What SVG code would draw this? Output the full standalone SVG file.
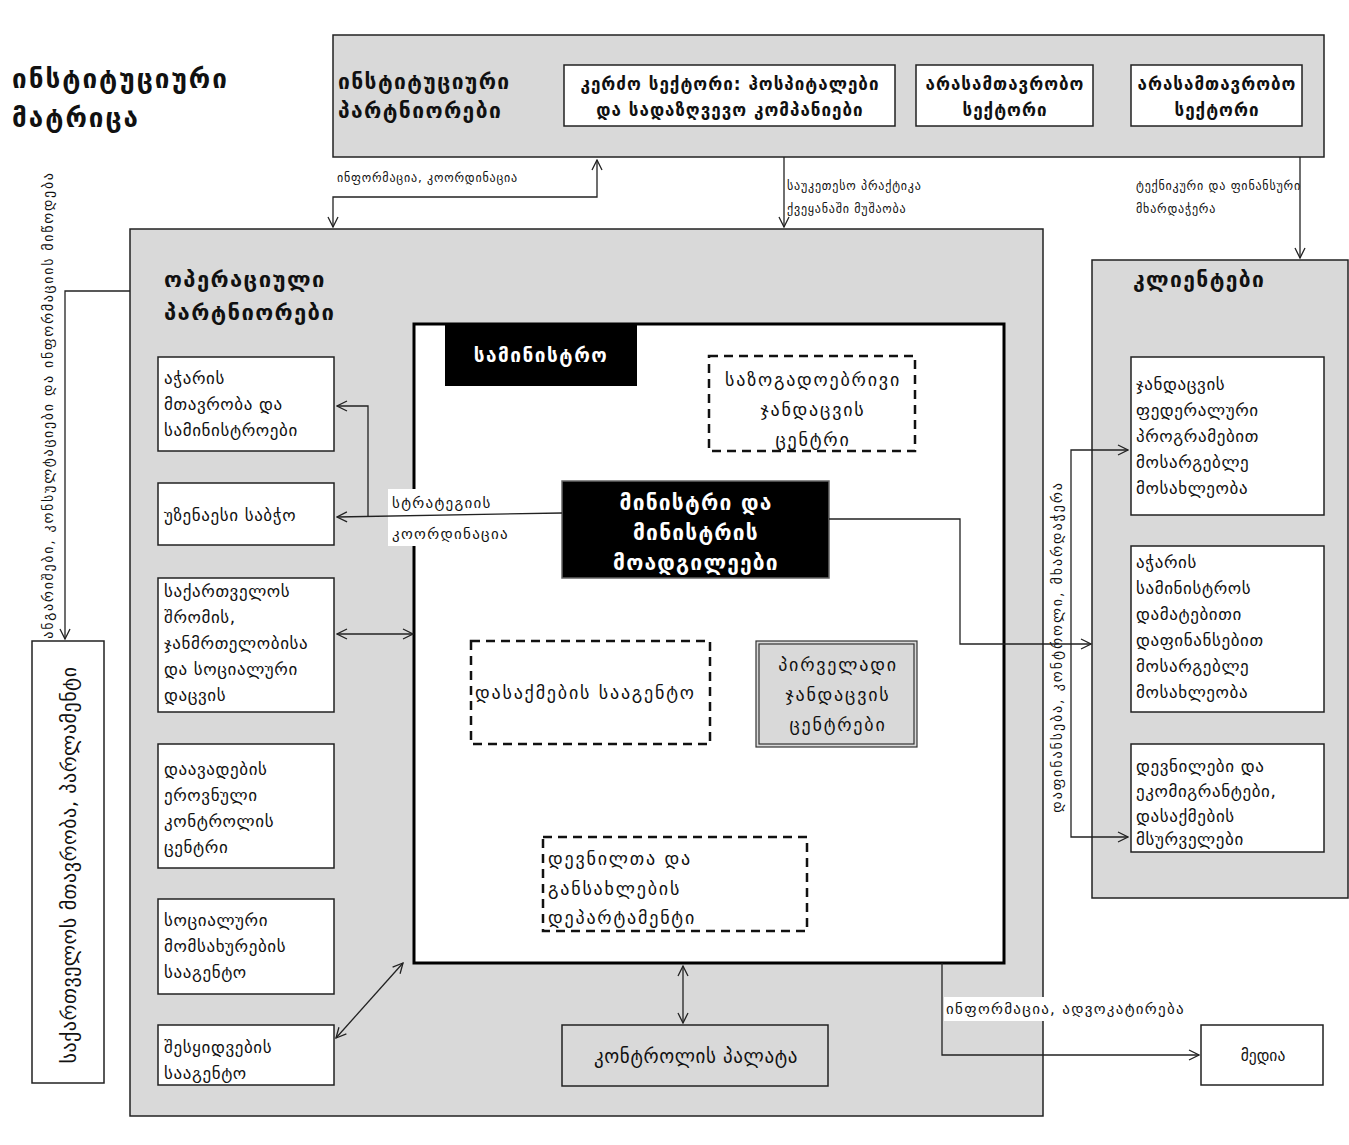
<svg xmlns="http://www.w3.org/2000/svg" width="1349" height="1145" viewBox="0 0 1349 1145">
<style>
text{font-family:"DejaVu Sans","Noto Sans",sans-serif;fill:#111}
.ttl{font-size:26px;font-weight:bold;letter-spacing:2px}
.h{font-size:21px;font-weight:bold;letter-spacing:1.4px}
.tb{font-size:17px;font-weight:bold;letter-spacing:1px}
.t{font-size:17px;letter-spacing:0.6px}
.ti{font-size:18px;letter-spacing:1.8px}
.w{fill:#fff;font-weight:bold}
.s{font-size:12px;letter-spacing:0.8px}
.m{font-size:15px;letter-spacing:1.3px}
.gray{fill:#d9d9d9;stroke:#222;stroke-width:1.5}
.box{fill:#fff;stroke:#222;stroke-width:1.5}
.dash{fill:#fff;stroke:#111;stroke-width:2.5;stroke-dasharray:9 6}
.ln{fill:none;stroke:#222;stroke-width:1.3}
.c{text-anchor:middle}
</style>
<defs>
<marker id="a" viewBox="0 0 12 12" refX="11" refY="6" markerWidth="12" markerHeight="12" markerUnits="userSpaceOnUse" orient="auto-start-reverse">
<path d="M1,1 L11,6 L1,11" fill="none" stroke="#222" stroke-width="1.3"/>
</marker>
</defs>
<rect width="1349" height="1145" fill="#fff"/>

<g id="title">
<text class="ttl" x="12" y="88">ინსტიტუციური</text>
<text class="ttl" x="12" y="127">მატრიცა</text>
</g>

<g id="institutional">
<rect class="gray" x="333" y="35" width="991" height="122"/>
<text class="h" x="338" y="89">ინსტიტუციური</text>
<text class="h" x="338" y="118">პარტნიორები</text>
</g>
<g id="private">
<rect class="box" x="564" y="65" width="331" height="61"/>
<text class="tb c" x="730" y="90">კერძო სექტორი: ჰოსპიტალები</text>
<text class="tb c" x="730" y="116">და სადაზღვევო კომპანიები</text>
</g>
<g id="ngo1">
<rect class="box" x="916" y="65" width="177" height="61"/>
<text class="tb c" x="1005" y="90">არასამთავრობო</text>
<text class="tb c" x="1005" y="116">სექტორი</text>
</g>
<g id="ngo2">
<rect class="box" x="1131" y="65" width="171" height="61"/>
<text class="tb c" x="1217" y="90">არასამთავრობო</text>
<text class="tb c" x="1217" y="116">სექტორი</text>
</g>

<g id="operational">
<rect class="gray" x="130" y="229" width="913" height="887"/>
<text class="h" x="164" y="287" style="font-size:22px">ოპერაციული</text>
<text class="h" x="164" y="320" style="font-size:22px">პარტნიორები</text>
</g>

<g id="adjara-gov">
<rect class="box" x="158" y="357" width="176" height="94"/>
<text class="t" x="164" y="384">აჭარის</text>
<text class="t" x="164" y="410">მთავრობა და</text>
<text class="t" x="164" y="436">სამინისტროები</text>
</g>
<g id="supreme-council">
<rect class="box" x="158" y="483" width="176" height="62"/>
<text class="t" x="164" y="521">უზენაესი საბჭო</text>
</g>
<g id="moh">
<rect class="box" x="158" y="578" width="176" height="134"/>
<text class="t" x="164" y="597">საქართველოს</text>
<text class="t" x="164" y="623">შრომის,</text>
<text class="t" x="164" y="649">ჯანმრთელობისა</text>
<text class="t" x="164" y="675">და სოციალური</text>
<text class="t" x="164" y="701">დაცვის</text>
</g>
<g id="ncdc">
<rect class="box" x="158" y="744" width="176" height="124"/>
<text class="t" x="164" y="775">დაავადების</text>
<text class="t" x="164" y="801">ეროვნული</text>
<text class="t" x="164" y="827">კონტროლის</text>
<text class="t" x="164" y="853">ცენტრი</text>
</g>
<g id="ssa">
<rect class="box" x="158" y="899" width="176" height="95"/>
<text class="t" x="164" y="926">სოციალური</text>
<text class="t" x="164" y="952">მომსახურების</text>
<text class="t" x="164" y="978">სააგენტო</text>
</g>
<g id="procurement">
<rect class="box" x="158" y="1025" width="176" height="60"/>
<text class="t" x="164" y="1053">შესყიდვების</text>
<text class="t" x="164" y="1079">სააგენტო</text>
</g>

<g id="ministry">
<rect x="414" y="324" width="590" height="639" fill="#fff" stroke="#000" stroke-width="3"/>
<rect x="445" y="325" width="192" height="61" fill="#000"/>
<text class="w c" x="541" y="362" font-size="19" letter-spacing="1.5">სამინისტრო</text>
</g>
<g id="public-health">
<rect class="dash" x="709" y="356" width="206" height="95"/>
<text class="ti c" x="813" y="386">საზოგადოებრივი</text>
<text class="ti c" x="813" y="416">ჯანდაცვის</text>
<text class="ti c" x="813" y="446">ცენტრი</text>
</g>
<g id="minister">
<rect x="562" y="481" width="267" height="97" fill="#000" stroke="#666" stroke-width="1.5"/>
<text class="w c" x="696" y="510" font-size="21" letter-spacing="1.2">მინისტრი და</text>
<text class="w c" x="696" y="540" font-size="21" letter-spacing="1.2">მინისტრის</text>
<text class="w c" x="696" y="570" font-size="21" letter-spacing="1.2">მოადგილეები</text>
</g>
<g id="employment">
<rect class="dash" x="471" y="641" width="239" height="103"/>
<text class="ti" x="475" y="699">დასაქმების სააგენტო</text>
</g>
<g id="phc">
<rect x="756" y="641" width="161" height="106" fill="#d9d9d9" stroke="#333" stroke-width="1.2"/>
<rect x="759" y="644" width="155" height="100" fill="none" stroke="#333" stroke-width="1.2"/>
<text class="ti c" x="838" y="671">პირველადი</text>
<text class="ti c" x="838" y="701">ჯანდაცვის</text>
<text class="ti c" x="838" y="731">ცენტრები</text>
</g>
<g id="idp">
<rect class="dash" x="543" y="837" width="264" height="94"/>
<text class="ti" x="548" y="865">დევნილთა და</text>
<text class="ti" x="548" y="895">განსახლების</text>
<text class="ti" x="548" y="924">დეპარტამენტი</text>
</g>

<g id="audit">
<rect class="gray" x="562" y="1025" width="266" height="61"/>
<text class="c" x="696" y="1063" font-size="19" letter-spacing="0.6">კონტროლის პალატა</text>
</g>

<g id="clients">
<rect class="gray" x="1092" y="260" width="256" height="638"/>
<text class="h" x="1133" y="287" letter-spacing="0.5">კლიენტები</text>
</g>
<g id="client1">
<rect class="box" x="1131" y="357" width="193" height="158"/>
<text class="t" x="1136" y="390">ჯანდაცვის</text>
<text class="t" x="1136" y="416">ფედერალური</text>
<text class="t" x="1136" y="442">პროგრამებით</text>
<text class="t" x="1136" y="468">მოსარგებლე</text>
<text class="t" x="1136" y="494">მოსახლეობა</text>
</g>
<g id="client2">
<rect class="box" x="1131" y="546" width="193" height="166"/>
<text class="t" x="1136" y="568">აჭარის</text>
<text class="t" x="1136" y="594">სამინისტროს</text>
<text class="t" x="1136" y="620">დამატებითი</text>
<text class="t" x="1136" y="646">დაფინანსებით</text>
<text class="t" x="1136" y="672">მოსარგებლე</text>
<text class="t" x="1136" y="698">მოსახლეობა</text>
</g>
<g id="client3">
<rect class="box" x="1131" y="744" width="193" height="108"/>
<text class="t" x="1136" y="772">დევნილები და</text>
<text class="t" x="1136" y="797">ეკომიგრანტები,</text>
<text class="t" x="1136" y="822">დასაქმების</text>
<text class="t" x="1136" y="845">მსურველები</text>
</g>

<g id="government">
<rect class="box" x="32" y="641" width="72" height="442"/>
<text class="c" transform="translate(76,865) rotate(-90)" font-size="20" letter-spacing="0.5">საქართველოს მთავრობა, პარლამენტი</text>
</g>

<g id="media">
<rect class="box" x="1201" y="1025" width="122" height="60"/>
<text class="c" x="1263" y="1061" font-size="15.5">მედია</text>
</g>

<g id="connectors">
<polyline class="ln" points="597,160 597,197 333,197 333,227" marker-start="url(#a)" marker-end="url(#a)"/>
<text class="s" x="337" y="182">ინფორმაცია, კოორდინაცია</text>
<line class="ln" x1="784" y1="157" x2="784" y2="227" marker-end="url(#a)"/>
<text class="s" x="787" y="190">საუკეთესო პრაქტიკა</text>
<text class="s" x="787" y="213">ქვეყანაში მუშაობა</text>
<line class="ln" x1="1300" y1="157" x2="1300" y2="258" marker-end="url(#a)"/>
<text class="s" x="1136" y="190" letter-spacing="0.5">ტექნიკური და ფინანსური</text>
<text class="s" x="1136" y="213" letter-spacing="0.5">მხარდაჭერა</text>

<polyline class="ln" points="130,291 65,291 65,639" marker-end="url(#a)"/>
<text class="c" transform="translate(53,405) rotate(-90)" font-size="14" letter-spacing="1.7">ანგარიშები, კონსულტაციები და ინფორმაციის მიწოდება</text>

<rect x="388" y="489" width="122" height="57" fill="#fff"/>
<line class="ln" x1="562" y1="513" x2="337" y2="517" marker-end="url(#a)"/>
<polyline class="ln" points="368,516 368,406 337,406" marker-end="url(#a)"/>
<text class="m" x="392" y="508">სტრატეგიის</text>
<text class="m" x="392" y="539">კოორდინაცია</text>
<line class="ln" x1="337" y1="634" x2="413" y2="634" marker-start="url(#a)" marker-end="url(#a)"/>
<line class="ln" x1="336" y1="1038" x2="403" y2="963" marker-start="url(#a)" marker-end="url(#a)"/>
<line class="ln" x1="683" y1="966" x2="683" y2="1023" marker-start="url(#a)" marker-end="url(#a)"/>

<polyline class="ln" points="829,519 960,519 960,644 1091,644" marker-end="url(#a)"/>
<polyline class="ln" points="1128,450 1071,450 1071,837 1128,837" marker-start="url(#a)" marker-end="url(#a)"/>
<text class="c" transform="translate(1062,647) rotate(-90)" font-size="14" letter-spacing="1.9">დაფინანსება, კონტროლი, მხარდაჭერა</text>

<rect x="944" y="997" width="246" height="24" fill="#fff"/>
<polyline class="ln" points="942,963 942,1055 1199,1055" marker-end="url(#a)"/>
<text class="m" x="946" y="1014">ინფორმაცია, ადვოკატირება</text>
</g>
</svg>
